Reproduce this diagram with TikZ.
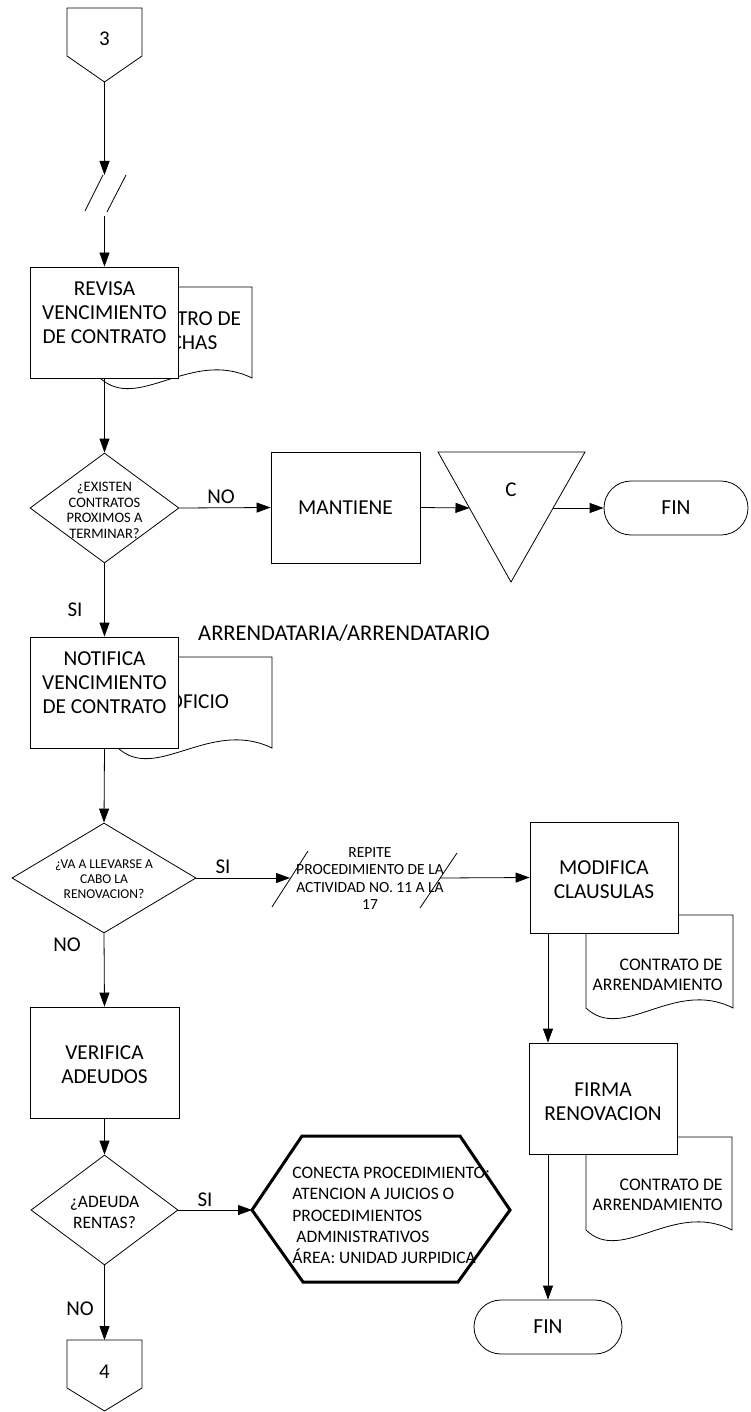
\documentclass[tikz,border=0pt]{standalone}
\usepackage{fontspec}
\setmainfont{Carlito}
\usetikzlibrary{arrows.meta,shapes.geometric,shapes.misc,calc}
\begin{document}
\begin{tikzpicture}[x=1pt,y=-1pt,line width=0.8pt,
  arr/.style={-{Triangle[length=14pt,width=10pt]}},
  proc/.style={draw,fill=white,minimum width=148pt,minimum height=111pt,inner sep=0pt},
  ptext/.style={align=center,inner sep=0pt,font=\fontsize{21.3}{24}\selectfont},
  dec/.style={draw,fill=white,diamond,minimum width=#1,minimum height=110pt,inner sep=0pt},
  dtext/.style={align=center,inner sep=0pt,font=\fontsize{13.5}{15}\selectfont},
  term/.style={draw,fill=white,rounded rectangle,minimum height=54pt,inner sep=0pt,font=\fontsize{21.5}{24}\selectfont},
  lbl/.style={inner sep=0pt,font=\fontsize{21}{24}\selectfont},
  doctext/.style={align=right,inner sep=0pt,font=\fontsize{17.7}{20}\selectfont},
  docshape/.style={draw,fill=white}
]
\useasboundingbox (0,0) rectangle (750,1412);

% ---- off-page connector 3
\draw (67,8) -- (142,8) -- (142,56) -- (104.5,82) -- (67,56) -- cycle;
\node[lbl] (c3) at (104.5,39) {3};
\coordinate (c3tip) at (104.5,82);
\coordinate (brk1) at (104.5,175);
\coordinate (brk2) at (104.5,216);
\draw (85,211) -- (103,175);
\draw (107,212) -- (126,175);

% ---- documents (drawn first, behind the boxes)
\draw[docshape] (100,378) -- (100,287) -- (252,287) -- (252,378)
  .. controls (191,348) and (138,413) .. (100,378);
\node[ptext] (doc1) at (184,330.5) {REGISTRO DE\\FECHAS};

\draw[docshape] (118,748) -- (118,657) -- (272,657) -- (272,748)
  .. controls (210,718) and (156,783) .. (118,748);
\node[ptext] (doc2) at (199,702) {OFICIO};

\draw[docshape] (586,1008) -- (586,915) -- (733,915) -- (733,1008)
  .. controls (674,978) and (623,1043) .. (586,1008);
\node[doctext,anchor=east] (doc3) at (723,975) {CONTRATO DE\\ARRENDAMIENTO};

\draw[docshape] (586,1230) -- (586,1137) -- (732,1137) -- (732,1230)
  .. controls (673,1200) and (622,1265) .. (586,1230);
\node[doctext,anchor=east] (doc4) at (723,1195) {CONTRATO DE\\ARRENDAMIENTO};

% ---- process boxes
\node[proc] (rev) at (104.5,322.5) {};
\node[ptext] (revt) at (104.5,313) {REVISA\\VENCIMIENTO\\DE CONTRATO};
\node[proc,minimum width=149pt] (mant) at (345.5,507.5) {};
\node[ptext] (mantt) at (345.5,507.5) {MANTIENE};
\node[proc] (notif) at (104.5,692.5) {};
\node[ptext] (notift) at (104.5,683) {NOTIFICA\\VENCIMIENTO\\DE CONTRATO};
\node[proc] (modif) at (604,877.5) {};
\node[ptext] (modift) at (604,879.5) {MODIFICA\\CLAUSULAS};
\node[proc] (firma) at (603,1098.5) {};
\node[ptext] (firmat) at (603,1101.5) {FIRMA\\RENOVACION};
\node[proc,minimum width=149pt] (verif) at (104.5,1062.5) {};
\node[ptext] (verift) at (104.5,1064.5) {VERIFICA\\ADEUDOS};

% ---- decisions
\node[dec=149pt] (d1) at (104.5,508) {};
\node[dtext,font=\fontsize{14.5}{15.5}\selectfont] (d1t) at (104.5,510.5) {¿EXISTEN\\CONTRATOS\\PROXIMOS A\\TERMINAR?};
\node[dec=184pt] (d2) at (104,878) {};
\node[dtext] (d2t) at (104,879.5) {¿VA A LLEVARSE A\\CABO LA\\RENOVACION?};
\node[dec=147pt] (d3) at (104.5,1210) {};
\node[dtext,font=\fontsize{17.5}{21}\selectfont] (d3t) at (104.5,1212.5) {¿ADEUDA\\RENTAS?};

% ---- merge triangle
\draw (438,452) -- (585,452) -- (511,582) -- cycle;
\node[lbl] (tric) at (511,490) {C};
\coordinate (trin) at (469.5,508);
\coordinate (trout) at (553,508);

% ---- terminals
\node[term,minimum width=144pt] (fin1) at (676,508) {FIN};
\node[term,minimum width=148pt] (fin2) at (548,1327) {FIN};

% ---- hexagon
\draw[line width=3pt] (252,1210) -- (302,1136) -- (460,1136) -- (510,1210) -- (458,1282) -- (303,1282) -- cycle;
\coordinate (hexw) at (252,1210);
\node[align=left,inner sep=0pt,anchor=west,font=\fontsize{17.5}{21.3}\selectfont] (hext) at (292,1215.5)
  {CONECTA PROCEDIMIENTO:\\ATENCION A JUICIOS O\\PROCEDIMIENTOS\\\hspace{4pt}ADMINISTRATIVOS\\ÁREA: UNIDAD JURPIDICA};

% ---- off-page connector 4
\draw (67,1340) -- (142,1340) -- (142,1388) -- (104.5,1411) -- (67,1388) -- cycle;
\node[lbl] (c4) at (104.5,1372) {4};
\coordinate (c4top) at (104.5,1340);

% ---- repeat block
\coordinate (s1mid) at (290,878);
\coordinate (s2mid) at (440,878);
\draw (272,907) -- (308,851);
\draw (420,908) -- (457,853);
\node[align=center,inner sep=0pt,font=\fontsize{15.5}{17.5}\selectfont] (rep) at (370,878.5)
  {REPITE\\PROCEDIMIENTO DE LA\\ACTIVIDAD NO. 11 A LA\\17};

% ---- connectors
\draw[arr] (c3tip) -- (brk1);
\draw[arr] (brk2) -- (rev.north);
\draw[arr] (rev.south) -- (d1.north);
\draw[arr] (d1.east) -- (mant.west);
\draw[arr] (mant.east) -- (trin);
\draw[arr] (trout) -- (fin1.west);
\draw[arr] (d1.south) -- (notif.north);
\draw[arr] (notif.south) -- (d2.north);
\draw[arr] (d2.east) -- (s1mid);
\draw[arr] (s2mid) -- (modif.west);
\draw[arr] (d2.south) -- (verif.north);
\draw[arr] (verif.south) -- (d3.north);
\draw[arr] (d3.east) -- (hexw);
\draw[arr] (d3.south) -- (c4top);
\draw[arr] (fin2 |- modif.south) -- (fin2 |- firma.north);
\draw[arr] (fin2 |- firma.south) -- (fin2.north);

% ---- labels
\node[lbl] (lno1) at (221,497) {NO};
\node[lbl] (lsi1) at (75,610) {SI};
\node[lbl,font=\fontsize{22.5}{24}\selectfont] (larr) at (344,633) {ARRENDATARIA/ARRENDATARIO};
\node[lbl] (lsi2) at (223,867) {SI};
\node[lbl] (lno2) at (67,945) {NO};
\node[lbl] (lsi3) at (205,1200) {SI};
\node[lbl] (lno3) at (80,1309) {NO};
\end{tikzpicture}
\end{document}
